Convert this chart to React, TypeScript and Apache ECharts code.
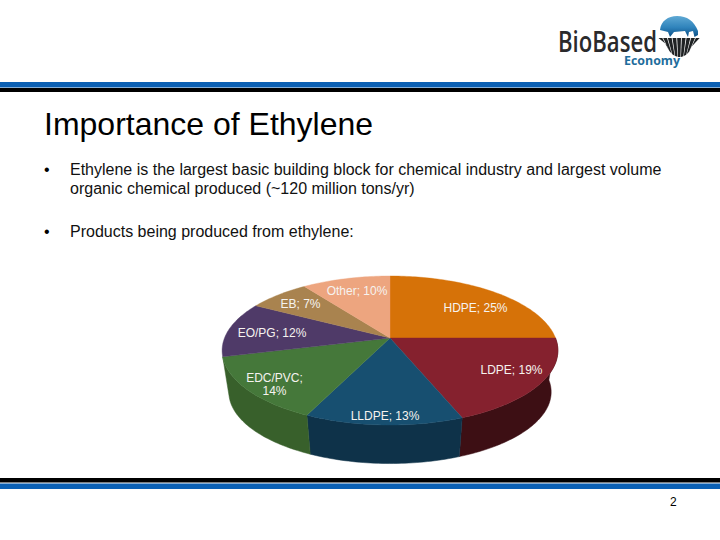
import React, { useEffect, useRef } from "react";
import * as echarts from "echarts";

const categories = ["HDPE", "LDPE", "LLDPE", "EDC/PVC", "EO/PG", "EB", "Other"];
const shares = [25, 19, 13, 14, 12, 7, 10];
const topColors = ["#d67208", "#85212e", "#174f70", "#45783a", "#4f3a68", "#a9834f", "#eda57f"];
const wallColors = ["#8f4d06", "#3d0f14", "#0e3249", "#38602b", "#33254a", "#6e5533", "#a87050"];
const pageTitle = "Importance of Ethylene";
const bulletOne = ["Ethylene is the largest basic building block for chemical industry and largest volume", "organic chemical produced (~120 million tons/yr)"];
const bulletTwo = "Products being produced from ethylene:";
const pageNumber = "2";

// Layout of the tilted pie (not data)
const HUB = { x: 390, y: 338 };
const RX = 165.5;
const RY = 72.4;
const PERSPECTIVE = 0.168;
const DEPTH = 42;
const BOTTOM_SCALE = 0.96;
const labelAnchors: Record<string, [number, number]> = {
  HDPE: [475.5, 308],
  LDPE: [511.5, 369.5],
  LLDPE: [385, 416],
  "EDC/PVC": [274.5, 384.5],
  "EO/PG": [272, 333],
  EB: [300.5, 304],
  Other: [357, 291],
};

const FONT = '"Liberation Sans", Arial, sans-serif';

function project(theta: number, scale = 1, dy = 0): [number, number] {
  const s = Math.sin(theta);
  const c = Math.cos(theta);
  const d = 1 + PERSPECTIVE * c;
  return [HUB.x + (scale * RX * s) / d, HUB.y + dy - (scale * RY * c) / d];
}

function sliceRange(index: number): [number, number] {
  const total = shares.reduce((a, b) => a + b, 0);
  let before = 0;
  for (let i = 0; i < index; i++) before += shares[i];
  return [(before / total) * Math.PI * 2, ((before + shares[index]) / total) * Math.PI * 2];
}

function arc(a0: number, a1: number, scale = 1, dy = 0) {
  const n = Math.max(4, Math.ceil((a1 - a0) / 0.02));
  const pts: [number, number][] = [];
  for (let i = 0; i <= n; i++) pts.push(project(a0 + ((a1 - a0) * i) / n, scale, dy));
  return pts;
}

echarts.graphic.registerShape(
  "logoDome",
  echarts.graphic.extendPath(
    "M0 14 C1 5 8 0 17 0 C27 0 34 5 38 15 L38 19 L34.5 21 L33 15 L29 16 L28 21 L25 15 L14 16 L10 21 L8 16 Z",
    {} as any
  ) as any
);

export default function App() {
  const ref = useRef<HTMLDivElement>(null);
  useEffect(() => {
    const chart = echarts.init(ref.current!, undefined, { renderer: "svg" });

    const fanRays: any[] = [];
    const fanTop = (u: number): [number, number] => [679.5 + 21 * u, 38];
    const fanBottom = (u: number): [number, number] => [679.5 + 13 * u, 38 + 19 * Math.sqrt(1 - u * u * 0.88)];
    for (let i = 0; i < 9; i++) {
      const u0 = -1 + (i * 2) / 9;
      const u1 = u0 + (2 / 9) * 0.82;
      fanRays.push({
        type: "polygon",
        shape: { points: [fanTop(u0), fanTop(u1), fanBottom(u1), fanBottom(u0)] },
        style: { fill: "#1f2224" },
      });
    }

    chart.setOption({
      animation: false,
      backgroundColor: "#ffffff",
      series: [
        {
          type: "custom",
          coordinateSystem: "none",
          silent: true,
          z: 2,
          data: categories.map((name, i) => ({ name, value: [i, shares[i]] })),
          renderItem: (_p: any, api: any) => {
            const i = api.value(0);
            const [a0, a1] = sliceRange(i);
            const mid = (a0 + a1) / 2;
            if (mid < Math.PI / 2 || mid > (Math.PI * 3) / 2) return { type: "group", children: [] };
            const top = arc(a0, a1);
            const bottom = arc(a0, a1, BOTTOM_SCALE, DEPTH).reverse();
            return {
              type: "polygon",
              shape: { points: top.concat(bottom) },
              style: { fill: wallColors[i], stroke: wallColors[i], lineWidth: 0.5 },
            };
          },
        },
        {
          type: "custom",
          coordinateSystem: "none",
          silent: true,
          z: 3,
          data: categories.map((name, i) => ({ name, value: [i, shares[i]] })),
          renderItem: (_p: any, api: any) => {
            const i = api.value(0);
            const [a0, a1] = sliceRange(i);
            return {
              type: "polygon",
              shape: { points: [[HUB.x, HUB.y] as [number, number]].concat(arc(a0, a1)) },
              style: { fill: topColors[i], stroke: topColors[i], lineWidth: 0.4 },
            };
          },
        },
        {
          type: "custom",
          coordinateSystem: "none",
          silent: true,
          z: 4,
          data: categories.map((name, i) => ({ name, value: [i, shares[i]] })),
          renderItem: (_p: any, api: any) => {
            const i = api.value(0);
            const name = categories[i];
            const [x, y] = labelAnchors[name];
            return {
              type: "text",
              x,
              y,
              style: {
                text: `${name};${name === "EDC/PVC" ? "\n" : " "}${api.value(1)}%`,
                fill: "#f6f3ef",
                font: `12px ${FONT}`,
                align: "center",
                verticalAlign: "middle",
                lineHeight: 13,
              },
            };
          },
        },
      ],
      graphic: [
        { type: "rect", shape: { x: 0, y: 82, width: 720, height: 5.5 }, style: { fill: "#0b60b4" } },
        { type: "rect", shape: { x: 0, y: 88, width: 720, height: 4 }, style: { fill: "#000000" } },
        { type: "rect", shape: { x: 0, y: 478, width: 720, height: 4.5 }, style: { fill: "#000000" } },
        { type: "rect", shape: { x: 0, y: 483.5, width: 720, height: 5.5 }, style: { fill: "#0b60b4" } },
        {
          type: "text", x: 44, y: 124,
          style: { text: pageTitle, fill: "#000", font: `32px ${FONT}`, verticalAlign: "middle" },
        },
        { type: "text", x: 44, y: 169, style: { text: "•", fill: "#000", font: `16px ${FONT}`, verticalAlign: "middle" } },
        { type: "text", x: 70, y: 169.5, style: { text: bulletOne[0], fill: "#111", font: `16px ${FONT}`, verticalAlign: "middle" } },
        { type: "text", x: 70, y: 188.5, style: { text: bulletOne[1], fill: "#111", font: `16px ${FONT}`, verticalAlign: "middle" } },
        { type: "text", x: 44, y: 231, style: { text: "•", fill: "#000", font: `16px ${FONT}`, verticalAlign: "middle" } },
        { type: "text", x: 70, y: 231.5, style: { text: bulletTwo, fill: "#111", font: `16px ${FONT}`, verticalAlign: "middle" } },
        { type: "text", x: 670, y: 502, style: { text: pageNumber, fill: "#000", font: `12px ${FONT}`, verticalAlign: "middle" } },
        {
          type: "text", x: 558, y: 41, scaleX: 0.79,
          style: { text: "BioBased", fill: "#2a2a2c", font: `600 28px "Open Sans", sans-serif`, verticalAlign: "middle" },
        },
        {
          type: "text", x: 624, y: 60,
          style: { text: "Economy", fill: "#1f6d9c", font: `700 12.4px "Open Sans", sans-serif`, verticalAlign: "middle" },
        },
        {
          type: "logoDome", x: 660, y: 16,
          style: {
            fill: {
              type: "linear", x: 0, y: 0, x2: 0, y2: 1,
              colorStops: [
                { offset: 0, color: "#5fa9d4" },
                { offset: 0.55, color: "#2f83bb" },
                { offset: 1, color: "#0a4f86" },
              ],
            },
          },
        },
        ...fanRays,
      ],
    });
    return () => chart.dispose();
  }, []);
  return <div ref={ref} style={{ position: "fixed", left: 0, top: 0, width: 720, height: 540 }} />;
}
